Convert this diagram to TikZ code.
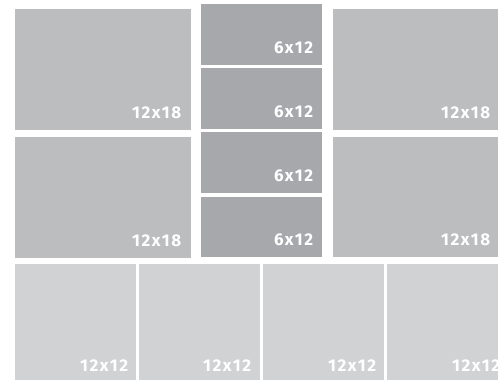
\documentclass[tikz,border=0pt]{standalone}
\usepackage{fontspec}
\newfontfamily\sizefont{Fira Sans}[LetterSpace=9]
\usepackage{tikz}
\usetikzlibrary{positioning}
\definecolor{tilegray}{HTML}{BCBDBF}
\definecolor{halfgray}{HTML}{A7A8AB}
\definecolor{squaregray}{HTML}{D1D2D4}
\tikzset{
  tile/.style={
    rectangle,
    anchor=north west,
    inner sep=0pt,
    fill=tilegray,
    minimum width=176pt,
    minimum height=121pt
  },
  halftile/.style={
    tile,
    fill=halfgray,
    minimum width=121pt,
    minimum height=61pt
  },
  squaretile/.style={
    tile,
    fill=squaregray,
    minimum width=121pt,
    minimum height=118pt
  },
  size/.style={
    inner sep=0pt,
    text=white,
    font=\sizefont\bfseries\fontsize{17}{17}\selectfont
  }
}
\begin{document}
\begin{tikzpicture}[x=1pt,y=1pt]
\clip (0,0) rectangle (498,-380);
\fill[white] (0,0) rectangle (498,-380);

% big tiles
\node[tile] (l1) at (15,-9) {};
\node[tile] (l2) at (15,-137) {};
\node[tile, minimum width=166pt] (r1) at (333,-9) {};
\node[tile, minimum width=166pt, minimum height=120pt] (r2) at (333,-137) {};

% half tiles
\node[halftile] (m1) at (201,-4) {};
\node[halftile] (m2) at (201,-68) {};
\node[halftile] (m3) at (201,-132) {};
\node[halftile, minimum height=60pt] (m4) at (201,-197) {};

% square tiles
\node[squaretile] (s1) at (15,-264) {};
\node[squaretile] (s2) at (139,-264) {};
\node[squaretile] (s3) at (263,-264) {};
\node[squaretile] (s4) at (387,-264) {};

% sizes
\node[size, above left=11pt and 10pt of l1.south east] (l1t) {12x18};
\node[size, above left=11pt and 10pt of l2.south east] (l2t) {12x18};
\node[size, above left=11pt and 9pt of r1.south east] (r1t) {12x18};
\node[size, above left=11pt and 9pt of r2.south east] (r2t) {12x18};
\node[size, above left=11pt and 9pt of m1.south east] (m1t) {6x12};
\node[size, above left=11pt and 9pt of m2.south east] (m2t) {6x12};
\node[size, above left=11pt and 9pt of m3.south east] (m3t) {6x12};
\node[size, above left=11pt and 9pt of m4.south east] (m4t) {6x12};
\node[size, above left=11pt and 8pt of s1.south east] (s1t) {12x12};
\node[size, above left=11pt and 9pt of s2.south east] (s2t) {12x12};
\node[size, above left=11pt and 8pt of s3.south east] (s3t) {12x12};
\node[size, above left=11pt and 8pt of s4.south east] (s4t) {12x12};

\end{tikzpicture}
\end{document}
